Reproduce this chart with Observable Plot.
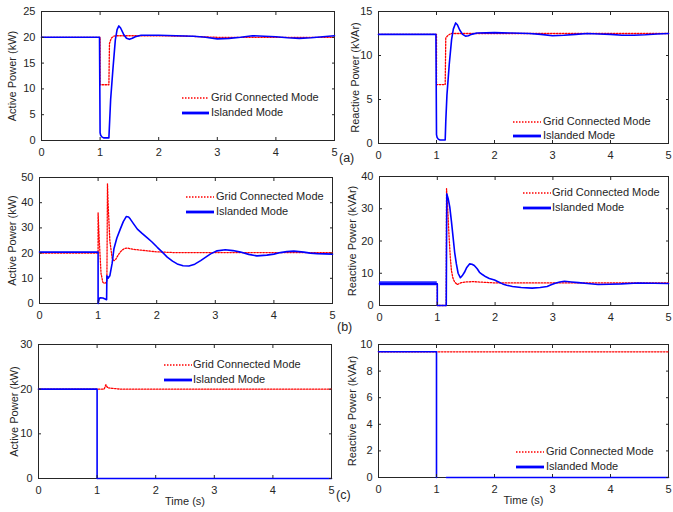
<!DOCTYPE html>
<html><head><meta charset="utf-8">
<script src="https://cdn.jsdelivr.net/npm/d3@7"></script>
<script src="https://cdn.jsdelivr.net/npm/@observablehq/plot@0.6"></script>
<style>
body{margin:0;background:#fff;}
#root{position:relative;width:673px;height:512px;overflow:hidden;font-family:"Liberation Sans",Arial,sans-serif;background:#fff;}
.panel{position:absolute;}
.lgtext{position:absolute;font-size:11px;color:#262626;line-height:13px;white-space:nowrap;}
.lgline{position:absolute;overflow:visible;}
.tag{position:absolute;font-size:12.5px;color:#262626;white-space:nowrap;}
</style></head><body><div id="root"></div>
<script>
const timeTicks = [0, 1, 2, 3, 4, 5];
const legendLabels = ["Grid Connected Mode", "Islanded Mode"];
const panelTags = ["(a)", "(b)", "(c)"];
const yLabels = ["Active Power (kW)", "Reactive Power (kVAr)"];
const xLabel = "Time (s)";

// (a) active power
const aP_yTicks = [0, 5, 10, 15, 20, 25];
const aP_gridT = [0, 1.0, 1.0, 1.15, 1.16, 1.19, 1.23, 1.28, 1.4, 2.0, 2.5, 3.0, 5.0];
const aP_gridV = [20, 20, 10.8, 10.8, 18.8, 19.8, 20.2, 20.3, 20.3, 20.3, 20.2, 20.0, 20.0];
const aP_islT = [0, 0.99, 1.0, 1.01, 1.03, 1.06, 1.15, 1.16, 1.18, 1.22, 1.26, 1.29, 1.32, 1.35, 1.4, 1.45, 1.5, 1.55, 1.6, 1.7, 1.85, 2.0, 2.3, 2.6, 2.8, 3.0, 3.2, 3.4, 3.6, 3.8, 4.0, 4.2, 4.4, 4.6, 4.8, 5.0];
const aP_islV = [20, 20, 1.5, 1.0, 0.7, 0.5, 0.5, 3, 8, 14, 19.5, 21.5, 22.2, 21.8, 20.6, 19.8, 19.6, 19.8, 20.1, 20.4, 20.4, 20.4, 20.3, 20.2, 20.0, 19.7, 19.8, 20.0, 20.3, 20.2, 20.1, 19.9, 19.8, 19.9, 20.1, 20.3];

// (a) reactive power
const aQ_yTicks = [0, 5, 10, 15];
const aQ_gridT = [0, 1.0, 1.0, 1.15, 1.16, 1.2, 1.25, 1.3, 5.0];
const aQ_gridV = [12.4, 12.4, 6.7, 6.7, 12.0, 12.3, 12.5, 12.5, 12.5];
const aQ_islT = [0, 0.99, 1.0, 1.01, 1.03, 1.06, 1.15, 1.16, 1.18, 1.22, 1.26, 1.29, 1.33, 1.36, 1.4, 1.45, 1.5, 1.55, 1.6, 1.7, 2.0, 2.3, 2.6, 2.8, 3.0, 3.2, 3.4, 3.6, 3.8, 4.0, 4.2, 4.4, 4.6, 4.8, 5.0];
const aQ_islV = [12.4, 12.4, 1.0, 0.7, 0.5, 0.4, 0.4, 2.5, 5.5, 9, 11.8, 13.0, 13.7, 13.5, 12.9, 12.4, 12.2, 12.25, 12.4, 12.55, 12.6, 12.55, 12.5, 12.4, 12.25, 12.3, 12.4, 12.5, 12.45, 12.4, 12.3, 12.3, 12.35, 12.45, 12.5];

// (b) active power
const bP_yTicks = [0, 10, 20, 30, 40, 50];
const bP_gridT = [0, 1.0, 1.0, 1.02, 1.05, 1.08, 1.1, 1.13, 1.15, 1.16, 1.17, 1.2, 1.24, 1.27, 1.3, 1.35, 1.4, 1.45, 1.5, 1.6, 1.8, 2.0, 2.3, 5.0];
const bP_gridV = [20, 20, 36, 25, 12, 8.5, 8, 8.2, 9, 47.5, 40, 25, 18, 17, 17.5, 19.5, 21, 21.8, 22, 21.5, 21, 20.5, 20.2, 20.2];
const bP_islT = [0, 1.0, 1.0, 1.02, 1.04, 1.08, 1.12, 1.145, 1.15, 1.17, 1.2, 1.24, 1.27, 1.32, 1.38, 1.43, 1.48, 1.52, 1.55, 1.6, 1.67, 1.75, 1.84, 1.92, 2.01, 2.1, 2.18, 2.27, 2.35, 2.45, 2.55, 2.65, 2.75, 2.85, 2.92, 3.03, 3.17, 3.3, 3.43, 3.57, 3.71, 3.88, 4.0, 4.11, 4.22, 4.34, 4.51, 4.62, 4.74, 5.0];
const bP_islV = [20.4, 20.4, 0, 2.0, 2.3, 2.2, 1.8, 1.5, 11, 10, 11, 16, 21.7, 26, 29.6, 32.5, 34.5, 34.3, 33.5, 31.8, 29.5, 27.8, 26, 24.4, 22.3, 20.3, 18.4, 16.8, 15.7, 15.0, 14.9, 15.6, 17.0, 18.6, 19.7, 20.9, 21.3, 21.0, 20.4, 19.5, 18.9, 19.2, 19.6, 20.2, 20.6, 20.8, 20.4, 20.0, 19.8, 19.6];

// (b) reactive power
const bQ_yTicks = [0, 10, 20, 30, 40];
const bQ_gridT = [0, 1.0, 1.0, 1.155, 1.16, 1.18, 1.204, 1.225, 1.244, 1.27, 1.30, 1.346, 1.38, 1.415, 1.5, 1.615, 2.0, 5.0];
const bQ_gridV = [6.7, 6.7, 0, 0, 36.2, 30, 21.2, 15, 10.9, 8.5, 7.3, 6.5, 6.8, 7.1, 7.3, 7.4, 7.0, 7.0];
const bQ_islT = [0, 1.0, 1.0, 1.155, 1.164, 1.19, 1.216, 1.245, 1.273, 1.30, 1.33, 1.36, 1.4, 1.43, 1.47, 1.51, 1.558, 1.6, 1.64, 1.69, 1.73, 1.78, 1.84, 1.9, 1.99, 2.06, 2.13, 2.2, 2.3, 2.45, 2.64, 2.78, 2.9, 2.97, 3.04, 3.12, 3.2, 3.32, 3.44, 3.6, 3.78, 3.98, 4.18, 4.47, 4.75, 5.0];
const bQ_islV = [6.7, 6.7, 0, 0, 34.6, 33, 30.5, 26, 21.2, 16.5, 12.9, 10, 8.6, 9.2, 10.3, 11.8, 12.9, 12.8, 12.4, 11.4, 10.3, 9.6, 8.9, 8.4, 7.9, 7.3, 6.7, 6.3, 5.9, 5.6, 5.4, 5.6, 5.9, 6.4, 6.9, 7.3, 7.5, 7.3, 7.1, 6.8, 6.5, 6.6, 6.7, 7.0, 6.9, 6.8];
const bQ_bandT = [0, 1.0];
const bQ_bandLo = [6.1, 6.1];
const bQ_bandHi = [7.4, 7.4];

// (c) active power
const cP_yTicks = [0, 10, 20, 30];
const cP_gridT = [0, 1.0, 1.12, 1.15, 1.18, 1.25, 1.4, 5.0];
const cP_gridV = [20, 20, 20, 21, 20.3, 20.2, 20.0, 20.0];
const cP_islT = [0, 1.0, 1.0, 5.0];
const cP_islV = [20, 20, 0, 0];

// (c) reactive power
const cQ_yTicks = [0, 2, 4, 6, 8, 10];
const cQ_gridT = [0, 5.0];
const cQ_gridV = [9.45, 9.45];
const cQ_islT = [0, 1.0, 1.0, 1.0, 1.17, 5.0];
const cQ_islV = [9.45, 9.45, 0, NaN, 0, 0];

const zip = (t, v) => t.map((d, i) => ({t: d, v: v[i]}));

const panels = [
  {grid: zip(aP_gridT, aP_gridV), isl: zip(aP_islT, aP_islV), yMax: 25, yTicks: aP_yTicks, yLabel: yLabels[0], xLabel: null,
   left: 0, top: 0, w: 340, h: 165, ml: 41, mr: 6, mt: 11, mb: 25, lo: 33,
   lg: {x1: 182, x2: 209, tx: 211, y1: 98, y2: 113}},
  {grid: zip(aQ_gridT, aQ_gridV), isl: zip(aQ_islT, aQ_islV), yMax: 15, yTicks: aQ_yTicks, yLabel: yLabels[1], xLabel: null,
   left: 340, top: 0, w: 333, h: 165, ml: 38, mr: 5, mt: 11, mb: 22, lo: 27,
   lg: {x1: 513, x2: 541, tx: 543, y1: 122, y2: 136}},
  {grid: zip(bP_gridT, bP_gridV), isl: zip(bP_islT, bP_islV), yMax: 50, yTicks: bP_yTicks, yLabel: yLabels[0], xLabel: null,
   left: 0, top: 165, w: 340, h: 165, ml: 39, mr: 8, mt: 12, mb: 27, lo: 31,
   lg: {x1: 186, x2: 214, tx: 216, y1: 197, y2: 212}},
  {grid: zip(bQ_gridT, bQ_gridV), isl: zip(bQ_islT, bQ_islV), yMax: 40, yTicks: bQ_yTicks, yLabel: yLabels[1], xLabel: null,
   band: bQ_bandT.map((t, i) => ({t, lo: bQ_bandLo[i], hi: bQ_bandHi[i]})),
   left: 340, top: 165, w: 333, h: 165, ml: 39, mr: 5, mt: 11, mb: 25, lo: 31,
   lg: {x1: 523, x2: 551, tx: 552, y1: 193, y2: 208}},
  {grid: zip(cP_gridT, cP_gridV), isl: zip(cP_islT, cP_islV), yMax: 30, yTicks: cP_yTicks, yLabel: yLabels[0], xLabel: xLabel,
   left: 0, top: 330, w: 340, h: 182, ml: 38, mr: 9, mt: 14, mb: 34, lo: 28,
   lg: {x1: 164, x2: 192, tx: 193, y1: 365, y2: 380}},
  {grid: zip(cQ_gridT, cQ_gridV), isl: zip(cQ_islT, cQ_islV), yMax: 10, yTicks: cQ_yTicks, yLabel: yLabels[1], xLabel: xLabel,
   left: 340, top: 330, w: 333, h: 182, ml: 38, mr: 5, mt: 14, mb: 35, lo: 30,
   lg: {x1: 516, x2: 544, tx: 546, y1: 452, y2: 467}}
];

const root = document.getElementById("root");
const RED = "#ff0000", BLUE = "#0000ff", INK = "#262626";

for (const p of panels) {
  const chart = Plot.plot({
    width: p.w, height: p.h,
    marginLeft: p.ml, marginRight: p.mr, marginTop: p.mt, marginBottom: p.mb,
    style: {fontFamily: "'Liberation Sans', Arial, sans-serif", fontSize: "11px", color: INK, background: "transparent", overflow: "visible"},
    x: {domain: [0, 5]},
    y: {domain: [0, p.yMax]},
    marks: [
      Plot.frame({stroke: INK, strokeWidth: 1}),
      Plot.line(p.grid, {x: "t", y: "v", stroke: RED, strokeWidth: 1.3, strokeDasharray: "1.5,1.5"}),
      p.band ? Plot.areaY(p.band, {x: "t", y1: "lo", y2: "hi", fill: BLUE, fillOpacity: 0.85}) : null,
      Plot.line(p.isl, {x: "t", y: "v", stroke: BLUE, strokeWidth: 1.6}),
      Plot.axisX({ticks: timeTicks, tickSize: -3, tickPadding: 11, tickFormat: d3.format("d"),
        label: p.xLabel, labelAnchor: "center", labelArrow: "none", labelOffset: 26, fontSize: 11}),
      Plot.axisX({anchor: "top", ticks: timeTicks, tickSize: -3, tickFormat: () => "", label: null}),
      Plot.axisY({ticks: p.yTicks, tickSize: -3, tickPadding: 9, tickFormat: d3.format("d"),
        label: p.yLabel, labelAnchor: "center", labelArrow: "none", labelOffset: p.lo}),
      Plot.axisY({anchor: "right", ticks: p.yTicks, tickSize: -3, tickFormat: () => "", label: null})
    ]
  });
  chart.classList.add("panel");
  chart.style.left = p.left + "px";
  chart.style.top = p.top + "px";
  root.appendChild(chart);

  // legend (no box)
  const rows = [
    {y: p.lg.y1, stroke: RED, sw: 1.3, dash: "1.5,1.5", text: legendLabels[0]},
    {y: p.lg.y2, stroke: BLUE, sw: 2.8, dash: null, text: legendLabels[1]}
  ];
  for (const r of rows) {
    const ns = "http://www.w3.org/2000/svg";
    const svg = document.createElementNS(ns, "svg");
    svg.setAttribute("class", "lgline");
    svg.setAttribute("width", p.lg.x2 - p.lg.x1);
    svg.setAttribute("height", 6);
    svg.style.left = p.lg.x1 + "px";
    svg.style.top = (r.y - 3) + "px";
    const ln = document.createElementNS(ns, "line");
    ln.setAttribute("x1", 0); ln.setAttribute("x2", p.lg.x2 - p.lg.x1);
    ln.setAttribute("y1", 3); ln.setAttribute("y2", 3);
    ln.setAttribute("stroke", r.stroke); ln.setAttribute("stroke-width", r.sw);
    if (r.dash) ln.setAttribute("stroke-dasharray", r.dash);
    svg.appendChild(ln);
    root.appendChild(svg);
    const tx = document.createElement("div");
    tx.className = "lgtext";
    tx.textContent = r.text;
    tx.style.left = p.lg.tx + "px";
    tx.style.top = (r.y - 7) + "px";
    root.appendChild(tx);
  }
}

const tagPos = [[348, 159], [346, 328], [345, 496]];
panelTags.forEach((s, i) => {
  const d = document.createElement("div");
  d.className = "tag";
  d.textContent = s;
  d.style.left = (tagPos[i][0] - 9) + "px";
  d.style.top = (tagPos[i][1] - 8) + "px";
  root.appendChild(d);
});
</script>
</body></html>
